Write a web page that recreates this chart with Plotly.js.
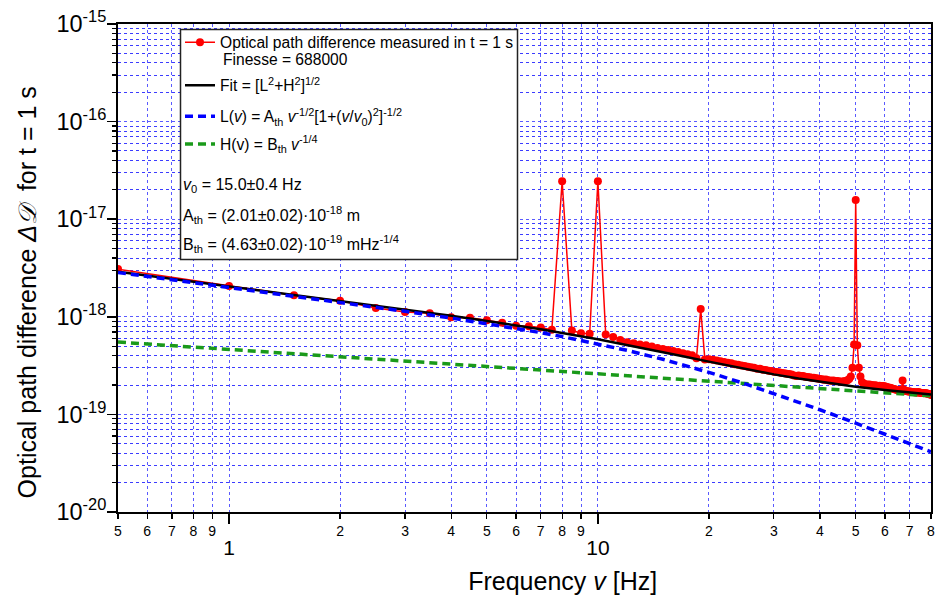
<!DOCTYPE html>
<html>
<head>
<meta charset="utf-8">
<script src="https://cdn.plot.ly/plotly-3.0.1.min.js"></script>
<style>html,body{margin:0;padding:0;background:#fff;}#chart{width:937px;height:599px;}</style>
</head>
<body>
<div id="chart"></div>
<script>
// ---- Data ----
const freq = [
  0.5,1,1.5,2,2.5,3,3.5,4,4.5,5,
  5.5,6,6.5,7,7.5,8,8.5,9,9.5,10,
  10.5,11,11.5,12,12.5,13,13.5,14,14.5,15,
  15.5,16,16.5,17,17.5,18,18.5,19,19.5,20,
  20.5,21,21.5,22,22.5,23,23.5,24,24.5,25,
  25.5,26,26.5,27,27.5,28,28.5,29,29.5,30,
  30.5,31,31.5,32,32.5,33,33.5,34,34.5,35,
  35.5,36,36.5,37,37.5,38,38.5,39,39.5,40,
  40.5,41,41.5,42,42.5,43,43.5,44,44.5,45,
  45.5,46,46.5,47,47.5,48,48.5,49,49.5,50,
  50.5,51,51.5,52,52.5,53,53.5,54,54.5,55,
  55.5,56,56.5,57,57.5,58,58.5,59,59.5,60,
  60.5,61,61.5,62,62.5,63,63.5,64,64.5,65,
  65.5,66,66.5,67,67.5,68,68.5,69,69.5,70,
  70.5,71,71.5,72,72.5,73,73.5,74,74.5,75,
  75.5,76,76.5,77,77.5,78,78.5,79,79.5,80
];
const measured = [
  30.8e-19,20.7e-19,16.6e-19,14.6e-19,12.3e-19,11.2e-19,10.9e-19,9.9e-19,9.8e-19,9.2e-19,
  8.7e-19,8.1e-19,8.0e-19,7.75e-19,7.35e-19,245e-19,7.25e-19,6.8e-19,6.7e-19,245e-19,
  6.6e-19,6.2e-19,5.8e-19,5.5e-19,5.35e-19,5.2e-19,5.1e-19,4.95e-19,4.78e-19,4.68e-19,
  4.56e-19,4.46e-19,4.35e-19,4.24e-19,4.13e-19,4.03e-19,3.75e-19,12.0e-19,3.66e-19,3.68e-19,
  3.64e-19,3.56e-19,3.50e-19,3.45e-19,3.38e-19,3.34e-19,3.27e-19,3.23e-19,3.17e-19,3.14e-19,
  3.07e-19,3.04e-19,3.01e-19,2.94e-19,2.93e-19,2.86e-19,2.85e-19,2.80e-19,2.79e-19,2.74e-19,
  2.72e-19,2.70e-19,2.66e-19,2.64e-19,2.61e-19,2.59e-19,2.56e-19,2.51e-19,2.47e-19,2.50e-19,
  2.48e-19,2.47e-19,2.43e-19,2.42e-19,2.40e-19,2.38e-19,2.37e-19,2.34e-19,2.33e-19,2.31e-19,
  2.29e-19,2.27e-19,2.28e-19,2.24e-19,2.23e-19,2.21e-19,2.22e-19,2.19e-19,2.20e-19,2.18e-19,
  2.16e-19,2.17e-19,2.18e-19,2.20e-19,2.24e-19,2.30e-19,2.45e-19,3.0e-19,5.2e-19,157e-19,
  5.1e-19,3.0e-19,2.45e-19,2.15e-19,2.07e-19,2.04e-19,2.03e-19,2.01e-19,2.02e-19,2.00e-19,
  1.99e-19,1.98e-19,1.99e-19,1.97e-19,1.96e-19,1.97e-19,1.95e-19,1.94e-19,1.95e-19,1.93e-19,
  1.92e-19,1.90e-19,1.88e-19,1.87e-19,1.85e-19,1.83e-19,1.82e-19,1.80e-19,1.79e-19,1.78e-19,
  1.77e-19,1.77e-19,1.80e-19,2.22e-19,1.80e-19,1.75e-19,1.74e-19,1.73e-19,1.72e-19,1.72e-19,
  1.71e-19,1.70e-19,1.70e-19,1.69e-19,1.69e-19,1.68e-19,1.68e-19,1.70e-19,1.67e-19,1.67e-19,
  1.66e-19,1.66e-19,1.65e-19,1.66e-19,1.65e-19,1.64e-19,1.63e-19,1.62e-19,1.61e-19,1.58e-19
];
const fitFreq = [0.5,1,1.5,2,3,4,5,7,10,12,15,17,20,25,30,35,40,50,60,70,80];
const fitVal = [28.94e-19,20.58e-19,16.86e-19,14.62e-19,11.91e-19,10.25e-19,9.073e-19,7.449e-19,5.895e-19,5.169e-19,4.359e-19,3.950e-19,3.474e-19,2.927e-19,2.570e-19,2.327e-19,2.153e-19,1.923e-19,1.779e-19,1.678e-19,1.602e-19];
const lFreq = [0.5,1,1.5,2,3,4,5,7,8,10,12,15,17.5,20,25,30,35,40,45,50,60,70,80];
const lVal = [28.41e-19,20.06e-19,16.33e-19,14.09e-19,11.38e-19,9.711e-19,8.528e-19,6.884e-19,6.270e-19,5.289e-19,4.531e-19,3.670e-19,3.127e-19,2.697e-19,2.068e-19,1.641e-19,1.338e-19,1.116e-19,0.9475e-19,0.8168e-19,0.6294e-19,0.5034e-19,0.4141e-19];
const hFreq = [0.5,80];
const hVal = [5.506e-19,1.548e-19];

const xMinorTicks = [0.5,0.6,0.7,0.8,0.9,2,3,4,5,6,7,8,9,20,30,40,50,60,70,80];
const xMinorLabels = ['5','6','7','8','9','2','3','4','5','6','7','8','9','2','3','4','5','6','7','8'];
const xMajorTicks = [1,10];
const xMajorLabels = ['1','10'];
const yMajorTicks = [1e-20,1e-19,1e-18,1e-17,1e-16,1e-15];
const yMajorLabels = ['10<sup>-20</sup>','10<sup>-19</sup>','10<sup>-18</sup>','10<sup>-17</sup>','10<sup>-16</sup>','10<sup>-15</sup>'];
const yMinorTicks = [
  2e-20,3e-20,4e-20,5e-20,6e-20,7e-20,8e-20,9e-20,
  2e-19,3e-19,4e-19,5e-19,6e-19,7e-19,8e-19,9e-19,
  2e-18,3e-18,4e-18,5e-18,6e-18,7e-18,8e-18,9e-18,
  2e-17,3e-17,4e-17,5e-17,6e-17,7e-17,8e-17,9e-17,
  2e-16,3e-16,4e-16,5e-16,6e-16,7e-16,8e-16,9e-16
];
const yMinorLabels = yMinorTicks.map(() => '');

const FONT = 'Liberation Sans, Arial, sans-serif';
const GRID = 'rgb(90,90,255)';
const GRID2 = 'rgb(60,60,255)';
const NB = '\u00a0';
const ZW = '\u200b';

const traces = [
  {x: freq, y: measured, type: 'scatter', mode: 'lines+markers',
   name: 'Optical path difference measured in t = 1 s',
   line: {color: '#ff0000', width: 1.5}, marker: {color: '#ff0000', size: 8, symbol: 'circle'},
   legend: 'legend'},
  {x: hFreq, y: hVal, type: 'scatter', mode: 'lines',
   name: 'H(v) = B<sub>th</sub> <i>v</i><sup>-1/4</sup>',
   line: {color: '#1a9a1a', width: 3.5, dash: '8px,5px'}, legend: 'legend4'},
  {x: fitFreq, y: fitVal, type: 'scatter', mode: 'lines',
   name: 'Fit = [L<sup>2</sup>+H<sup>2</sup>]<sup>1/2</sup>',
   line: {color: '#000000', width: 2.5}, legend: 'legend2'},
  {x: lFreq, y: lVal, type: 'scatter', mode: 'lines',
   name: 'L(<i>v</i>) = A<sub>th</sub> <i>v</i><sup>-1/2</sup>[1+(<i>v</i>/<i>v</i><sub>0</sub>)<sup>2</sup>]<sup>-1/2</sup>',
   line: {color: '#0000ff', width: 3.5, dash: '8px,5px'}, legend: 'legend3'},
  {x: [1], y: [null], xaxis: 'x2', yaxis: 'y', type: 'scatter', mode: 'lines', showlegend: false, hoverinfo: 'skip'},
  {x: [1], y: [null], xaxis: 'x', yaxis: 'y2', type: 'scatter', mode: 'lines', showlegend: false, hoverinfo: 'skip'}
];

const LEGFONT = 15.6;
const legBase = {bgcolor: 'rgba(0,0,0,0)', borderwidth: 0, font: {family: FONT, size: LEGFONT, color: '#000'},
                 xanchor: 'left', yanchor: 'middle', x: (180 - 118) / 813};
function ypx(p) { return 1 - (p - 24) / 488; }
function xpx(p) { return (p - 118) / 813; }

const layout = {
  width: 937, height: 599, autosize: false,
  margin: {l: 118, r: 6, t: 24, b: 87},
  paper_bgcolor: '#fff', plot_bgcolor: '#fff',
  font: {family: FONT, color: '#000'},
  showlegend: true,
  legend: Object.assign({}, legBase, {y: ypx(42.7)}),
  legend2: Object.assign({}, legBase, {y: ypx(85.7)}),
  legend3: Object.assign({}, legBase, {y: ypx(116.7)}),
  legend4: Object.assign({}, legBase, {y: ypx(144.3)}),
  xaxis: {
    type: 'log', range: [Math.log10(0.5), Math.log10(80)], autorange: false,
    tickmode: 'array', tickvals: xMinorTicks, ticktext: xMinorLabels,
    ticks: 'outside', ticklen: 5, tickwidth: 1.2, tickcolor: '#000',
    tickfont: {family: FONT, size: 14},
    showgrid: true, gridcolor: GRID, gridwidth: 1, griddash: 'dot',
    showline: true, linecolor: '#000', linewidth: 2, mirror: true, zeroline: false,
    title: {text: ZW + NB.repeat(11) + 'Frequency <i>v</i> [Hz]', font: {family: FONT, size: 25}, standoff: 35}
  },
  xaxis2: {
    type: 'log', range: [Math.log10(0.5), Math.log10(80)], autorange: false,
    overlaying: 'x', anchor: 'y', side: 'bottom',
    tickmode: 'array', tickvals: xMajorTicks, ticktext: xMajorLabels,
    ticks: 'outside', ticklen: 11, tickwidth: 1.5, tickcolor: '#000',
    tickfont: {family: FONT, size: 21}, ticklabelstandoff: 6,
    showgrid: true, gridcolor: GRID, gridwidth: 1, griddash: 'dot',
    showline: false, zeroline: false
  },
  yaxis: {
    type: 'log', range: [-20, -15], autorange: false,
    tickmode: 'array', tickvals: yMajorTicks, ticktext: yMajorLabels,
    ticks: 'outside', ticklen: 9, tickwidth: 1.5, tickcolor: '#000',
    tickfont: {family: FONT, size: 23.5}, ticklabelstandoff: -4,
    showgrid: true, gridcolor: GRID, gridwidth: 1, griddash: 'dot',
    showline: true, linecolor: '#000', linewidth: 2, mirror: true, zeroline: false,
    title: {text: 'Optical path difference <i>Δ𝒟</i>' + NB + NB + 'for t = 1 s' + NB.repeat(7) + ZW,
            font: {family: FONT, size: 25}, standoff: 13}
  },
  yaxis2: {
    type: 'log', range: [-20, -15], autorange: false,
    overlaying: 'y', anchor: 'x', side: 'left',
    tickmode: 'array', tickvals: yMinorTicks, ticktext: yMinorLabels,
    ticks: 'outside', ticklen: 5, tickwidth: 1.2, tickcolor: '#000',
    showgrid: true, gridcolor: GRID2, gridwidth: 1, griddash: 'dot',
    showline: false, zeroline: false
  },
  shapes: [
    {type: 'rect', xref: 'paper', yref: 'paper', x0: xpx(180.5), x1: xpx(517.5), y0: ypx(259.5), y1: ypx(29.5),
     line: {color: '#222', width: 1.5}, fillcolor: '#ffffff', layer: 'above'}
  ],
  annotations: [
    {xref: 'paper', yref: 'paper', x: xpx(221), y: ypx(59), xanchor: 'left', yanchor: 'middle', showarrow: false,
     text: 'Finesse = 688000', font: {family: FONT, size: LEGFONT}},
    {xref: 'paper', yref: 'paper', x: xpx(181), y: ypx(185.7), xanchor: 'left', yanchor: 'middle', showarrow: false,
     text: '<i>v</i><sub>0</sub> = 15.0±0.4 Hz', font: {family: FONT, size: 16}},
    {xref: 'paper', yref: 'paper', x: xpx(181), y: ypx(215), xanchor: 'left', yanchor: 'middle', showarrow: false,
     text: 'A<sub>th</sub> = (2.01±0.02)·10<sup>-18</sup> m', font: {family: FONT, size: 16}},
    {xref: 'paper', yref: 'paper', x: xpx(181), y: ypx(244), xanchor: 'left', yanchor: 'middle', showarrow: false,
     text: 'B<sub>th</sub> = (4.63±0.02)·10<sup>-19</sup> mHz<sup>-1/4</sup>', font: {family: FONT, size: 16}}
  ]
};

Plotly.newPlot('chart', traces, layout, {displayModeBar: false, staticPlot: true});
</script>
</body>
</html>
